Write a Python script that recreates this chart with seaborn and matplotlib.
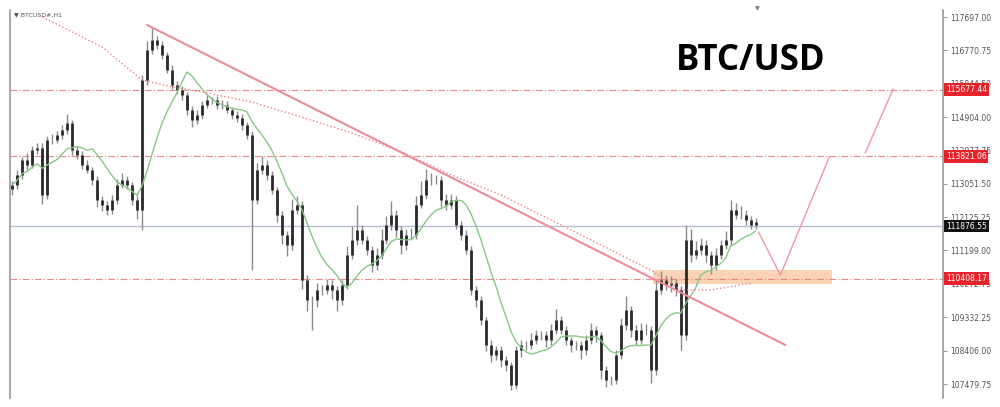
import pandas as pd
import matplotlib
matplotlib.use('Agg')
import matplotlib.pyplot as plt
import seaborn as sns

sns.set_style('white')
plt.rcParams['font.family'] = ['DejaVu Sans']

# 종가 (H1 캔들)
closes = [
    113020, 113298, 113716, 113576, 113994, 114050, 112741, 114272, 114272, 114412,
    114551, 114746, 113994, 113855, 113576, 113437, 113159, 112602, 112463, 112324,
    112602, 113020, 113159, 113020, 112602, 112324, 115943, 116778, 117056, 116917,
    116639, 116221, 115804, 115664, 115525, 115108, 114829, 114968, 115247, 115386,
    115386, 115247, 115247, 115108, 114968, 114885, 114690, 114412, 112602, 113437,
    113576, 113298, 112880, 112184, 111628, 111349, 112324, 112463, 110375, 109818,
    109818, 110096, 110096, 110236, 110096, 109818, 110236, 111071, 111488, 111767,
    111488, 111210, 110792, 111071, 111488, 111906, 112184, 111767, 111349, 111628,
    111628, 112463, 112741, 113159, 113159, 113159, 112602, 112463, 112602, 111906,
    111628, 111210, 110096, 109818, 109261, 108565, 108287, 108426, 108148, 108008,
    107452, 108426, 108565, 108565, 108704, 108844, 108844, 108704, 108983, 109261,
    108983, 108704, 108565, 108565, 108426, 108704, 108983, 108844, 107869, 107591,
    107591, 108287, 109122, 109540, 108983, 108704, 108983, 108983, 107869, 110096,
    110375, 110236, 110291, 110096, 108844, 111488, 111071, 111210, 111349, 111071,
    110792, 111071, 111349, 111488, 112324, 112184, 112184, 112045, 111906, 111990,
]
first_open = 112900

# 윗꼬리 / 아랫꼬리 길이
wick_up = [
    120, 150, 90, 200, 110, 150, 130, 100, 160, 120,
    140, 250, 90, 120, 100, 150, 80, 120, 110, 100,
    140, 180, 200, 100, 90, 120, 150, 250, 330, 120,
    100, 90, 140, 110, 100, 80, 120, 150, 100, 140,
    90, 110, 150, 100, 80, 120, 100, 90, 120, 200,
    250, 150, 100, 90, 120, 110, 300, 250, 100, 150,
    120, 200, 150, 180, 130, 100, 150, 250, 400, 700,
    150, 120, 100, 200, 300, 250, 400, 150, 120, 180,
    200, 250, 400, 300, 200, 150, 120, 160, 180, 100,
    120, 150, 100, 120, 100, 90, 150, 120, 100, 110,
    90, 120, 150, 110, 200, 150, 120, 100, 160, 300,
    120, 100, 90, 110, 100, 150, 200, 120, 90, 100,
    120, 150, 200, 400, 120, 150, 200, 180, 100, 300,
    250, 150, 200, 120, 100, 420, 300, 250, 200, 150,
    120, 200, 150, 250, 280, 200, 250, 150, 120, 100,
]
wick_lo = [
    150, 120, 100, 130, 90, 110, 250, 100, 120, 90,
    110, 100, 150, 100, 120, 90, 150, 200, 180, 150,
    100, 120, 90, 110, 150, 250, 560, 150, 120, 100,
    110, 90, 120, 100, 130, 150, 200, 120, 100, 90,
    110, 100, 120, 90, 110, 100, 150, 120, 1950, 120,
    100, 150, 120, 200, 250, 300, 150, 120, 250, 300,
    835, 200, 150, 120, 250, 300, 150, 120, 100, 150,
    120, 150, 200, 150, 100, 120, 150, 200, 250, 150,
    120, 100, 90, 120, 150, 100, 200, 150, 120, 100,
    150, 120, 150, 200, 150, 180, 200, 150, 200, 180,
    150, 120, 200, 150, 120, 100, 150, 200, 150, 120,
    100, 150, 200, 150, 250, 150, 100, 200, 250, 200,
    150, 120, 100, 150, 200, 150, 120, 150, 360, 150,
    120, 150, 200, 180, 418, 150, 200, 120, 150, 200,
    250, 150, 100, 120, 150, 120, 100, 150, 120, 100,
]

# 장기 이동평균 (빨간 점선)
slow_ma_idx = [6, 18, 26, 32, 38, 48, 58, 68, 78, 88, 98, 108, 118, 128, 134, 140, 148.4]
slow_ma_val = [117697, 116860, 115943, 115750, 115610, 115330, 114910, 114470, 113940,
               113300, 112740, 112045, 111350, 110650, 110100, 110100, 110290]

# 하락 추세선, 예상 경로
trend_idx = [27, 155]
trend_val = [117475, 108565]
path1_idx = [149.6, 154, 163.8]
path1_val = [111711, 110514, 113799]
path2_idx = [171, 176.6]
path2_val = [113910, 115692]

# 수평선
red_levels = [115677.44, 113821.06, 110408.17]
cur_price = 111876.55
zone_lo, zone_hi = 110264, 110653
zone_x = [128.4, 164.4]

yticks = [117697.00, 116770.75, 115844.50, 114904.00, 113977.75, 113051.50,
          112125.25, 111199.00, 110272.75, 109332.25, 108406.00, 107479.75]

#%%
df = pd.DataFrame({'close': closes})
df['idx'] = range(len(df))
df['open'] = df['close'].shift(1).fillna(first_open)
df['high'] = df[['open', 'close']].max(axis=1) + wick_up
df['low'] = df[['open', 'close']].min(axis=1) - wick_lo
df['ma'] = df['close'].rolling(10, min_periods=1).mean()

fig = plt.figure(figsize=(10, 4.07), dpi=100)
ax = fig.add_axes([0.010, 1 - 398 / 407, 0.933, 388 / 407])

red = '#e56b6f'
ax.axhspan(zone_lo, zone_hi, xmin=(zone_x[0] + 0.5) / 187.1, xmax=(zone_x[1] + 0.5) / 187.1,
           color='#f9c9a3', alpha=0.8, lw=0, zorder=1)
for lv in red_levels:
    ax.axhline(lv, color=red, lw=0.8, ls=(0, (6, 2, 1, 2)), alpha=0.8, zorder=2)
ax.axhline(cur_price, color='#b4c0d4', lw=1, zorder=2)

# 캔들
ax.vlines(df['idx'], df['low'], df['high'], color='#8a8a8a', lw=1, zorder=3)
ax.vlines(df['idx'], df['open'], df['close'], color='#2a2a2a', lw=2.0, zorder=4)

sns.lineplot(data=df, x='idx', y='ma', color='#86c886', lw=1, ax=ax, zorder=5)
sns.lineplot(x=slow_ma_idx, y=slow_ma_val, color='#f08080', lw=1, ls=':', ax=ax, zorder=5)
sns.lineplot(x=trend_idx, y=trend_val, color='#ea8c9c', lw=1.5, ax=ax, zorder=5)
sns.lineplot(x=path1_idx, y=path1_val, color='#ef96a6', lw=1, ax=ax, zorder=5)
sns.lineplot(x=path2_idx, y=path2_val, color='#ef96a6', lw=1, ax=ax, zorder=5)

ax.set_xlim(-0.5, 186.6)
ax.set_ylim(107090, 117892)
ax.set_xticks([])
ax.set_xlabel('')
ax.set_ylabel('')
ax.yaxis.tick_right()
ax.set_yticks(yticks)
ax.set_yticklabels([f'{v:.2f}' for v in yticks], fontsize=5.5, color='#555555')
ax.tick_params(axis='y', length=3, width=0.6, color='#888888', pad=2)
for s in ['top', 'bottom']:
    ax.spines[s].set_visible(False)
for s in ['left', 'right']:
    ax.spines[s].set_color('#9a9a9a')
    ax.spines[s].set_linewidth(1.2)

# 가격 라벨 (눈금 라벨 위에 겹쳐 그림)
for lv in red_levels:
    ax.text(1.003, lv, f'{lv:.2f}', transform=ax.get_yaxis_transform(), fontsize=5.5,
            color='white', va='center', ha='left', zorder=10,
            bbox=dict(boxstyle='square,pad=0.25', fc='#e8222a', ec='none'))
ax.text(1.003, cur_price, f'{cur_price:.2f}', transform=ax.get_yaxis_transform(), fontsize=5.5,
        color='white', va='center', ha='left', zorder=10,
        bbox=dict(boxstyle='square,pad=0.25', fc='#111111', ec='none'))

fig.text(0.014, 1 - 15 / 407, '▼ BTCUSD#,H1', fontsize=4.5, color='#555555', va='center')
fig.text(0.757, 1 - 9 / 407, '▼', fontsize=4.5, color='#777777', va='center', ha='center')
fig.text(0.751, 1 - 61 / 407, 'BTC/USD', fontsize=25, fontweight='bold', family=['Open Sans', 'DejaVu Sans'],
         color='black', va='center', ha='center')

fig.savefig('out.png', dpi=100)
